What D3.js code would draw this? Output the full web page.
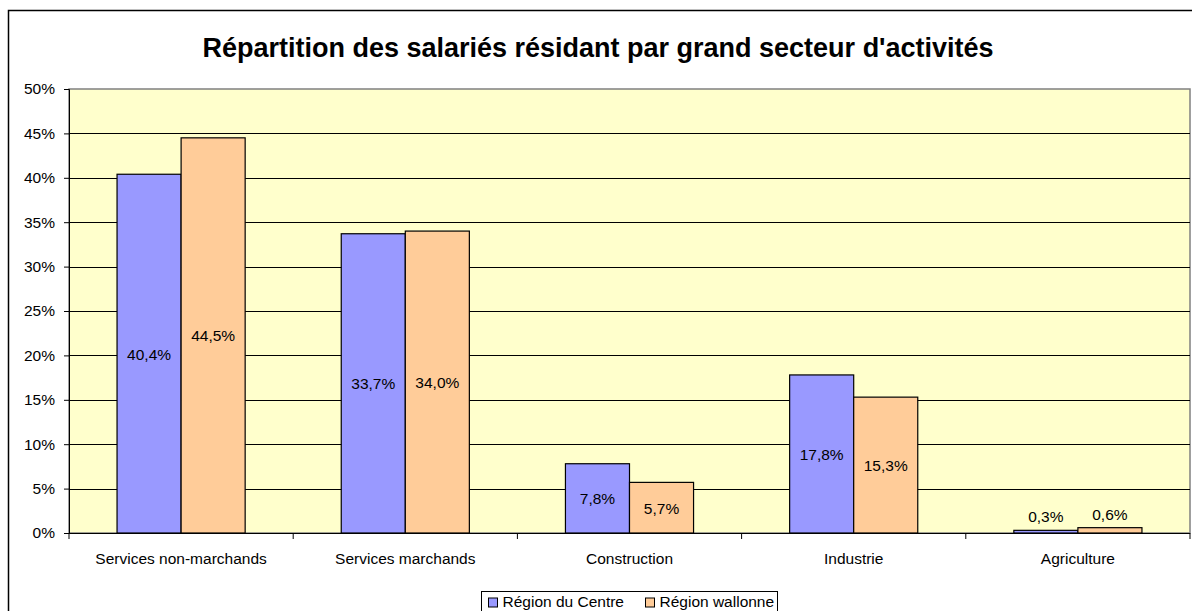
<!DOCTYPE html>
<html>
<head>
<meta charset="utf-8">
<script src="https://cdn.jsdelivr.net/npm/d3@7"></script>
<style>
  body { margin: 0; background: #fff; }
  svg text { font-family: "Liberation Sans", Arial, sans-serif; fill: #000; }
</style>
</head>
<body>
<div id="chart"></div>
<script>
const categories = ["Services non-marchands", "Services marchands", "Construction", "Industrie", "Agriculture"];
const seriesNames = ["Région du Centre", "Région wallonne"];
const centreValues = [40.4, 33.7, 7.8, 17.8, 0.3];
const wallonneValues = [44.5, 34.0, 5.7, 15.3, 0.6];
const yTicks = [0, 5, 10, 15, 20, 25, 30, 35, 40, 45, 50];

const colors = ["#9999FF", "#FFCC99"];
const W = 1192, H = 611;
const plot = { left: 69, top: 89, right: 1190, bottom: 533 };
const fs = "15.5px";

const svg = d3.select("#chart").append("svg")
    .attr("width", W)
    .attr("height", H);

// outer chart frame
svg.append("rect")
    .attr("x", 8.5).attr("y", 10.5)
    .attr("width", 1200).attr("height", 640)
    .attr("fill", "#fff").attr("stroke", "#000").attr("stroke-width", 1.5);

svg.append("text")
    .attr("x", 598).attr("y", 57)
    .attr("text-anchor", "middle")
    .style("font-size", "27px")
    .style("font-weight", "bold")
    .text("Répartition des salariés résidant par grand secteur d'activités");

const x = d3.scaleBand()
    .domain(categories)
    .range([plot.left, plot.right]);

const x1 = d3.scaleBand()
    .domain([0, 1])
    .range([0, x.bandwidth()])
    .paddingOuter(0.75);

const y = d3.scaleLinear()
    .domain([0, 50])
    .range([plot.bottom, plot.top]);

svg.append("rect")
    .attr("x", plot.left).attr("y", plot.top)
    .attr("width", plot.right - plot.left).attr("height", plot.bottom - plot.top)
    .attr("fill", "#FFFFCC").attr("stroke", "#808080").attr("stroke-width", 1.5);

// gridlines
svg.append("g")
    .selectAll("line")
    .data(yTicks.filter(d => d > 0 && d < 50))
    .join("line")
    .attr("x1", plot.left).attr("x2", plot.right)
    .attr("y1", d => Math.round(y(d)) + 0.5).attr("y2", d => Math.round(y(d)) + 0.5)
    .attr("stroke", "#000").attr("stroke-width", 1);

// y axis
const yAxis = svg.append("g")
    .attr("transform", `translate(${plot.left},0)`)
    .call(d3.axisLeft(y).tickValues(yTicks).tickSize(5).tickPadding(9).tickFormat(d => d + "%"));
yAxis.select(".domain").attr("stroke", "#000");
yAxis.selectAll("text").style("font-size", fs);

// bars
const series = [centreValues, wallonneValues];
const groups = svg.append("g")
    .selectAll("g")
    .data(categories)
    .join("g")
    .attr("transform", d => `translate(${x(d)},0)`);

groups.selectAll("rect")
    .data((d, i) => series.map((s, k) => ({ k, v: s[i] })))
    .join("rect")
    .attr("x", d => x1(d.k))
    .attr("width", x1.bandwidth())
    .attr("y", d => y(d.v))
    .attr("height", d => y(0) - y(d.v))
    .attr("fill", d => colors[d.k])
    .attr("stroke", "#000").attr("stroke-width", 1.2);

groups.selectAll("text")
    .data((d, i) => series.map((s, k) => ({ k, v: s[i] })))
    .join("text")
    .attr("x", d => x1(d.k) + x1.bandwidth() / 2)
    .attr("y", d => (y(0) - y(d.v) < 20 ? y(d.v) - 8 : (y(d.v) + y(0)) / 2 + 6))
    .attr("text-anchor", "middle")
    .style("font-size", fs)
    .text(d => d.v.toFixed(1).replace(".", ",") + "%");

// x axis
const xAxis = svg.append("g")
    .attr("transform", `translate(0,${plot.bottom})`);
xAxis.append("line")
    .attr("x1", plot.left).attr("x2", plot.right)
    .attr("y1", 0.5).attr("y2", 0.5)
    .attr("stroke", "#000");
xAxis.selectAll("line.tick")
    .data(categories.map(c => x(c)).concat([plot.right]))
    .join("line")
    .attr("class", "tick")
    .attr("x1", d => d).attr("x2", d => d)
    .attr("y1", 0).attr("y2", 6)
    .attr("stroke", "#000");
xAxis.selectAll("text")
    .data(categories)
    .join("text")
    .attr("x", d => x(d) + x.bandwidth() / 2)
    .attr("y", 31)
    .attr("text-anchor", "middle")
    .style("font-size", fs)
    .text(d => d);

// legend
const legend = svg.append("g").attr("transform", "translate(481.5,591.5)");
legend.append("rect")
    .attr("width", 296).attr("height", 26)
    .attr("fill", "#fff").attr("stroke", "#000");
const items = legend.selectAll("g")
    .data(seriesNames)
    .join("g")
    .attr("transform", (d, i) => `translate(${7 + i * 157},3)`);
items.append("rect")
    .attr("width", 9).attr("height", 9)
    .attr("y", 3.5)
    .attr("fill", (d, i) => colors[i])
    .attr("stroke", "#000");
items.append("text")
    .attr("x", 14).attr("y", 12.5)
    .style("font-size", fs)
    .text(d => d);
</script>
</body>
</html>
